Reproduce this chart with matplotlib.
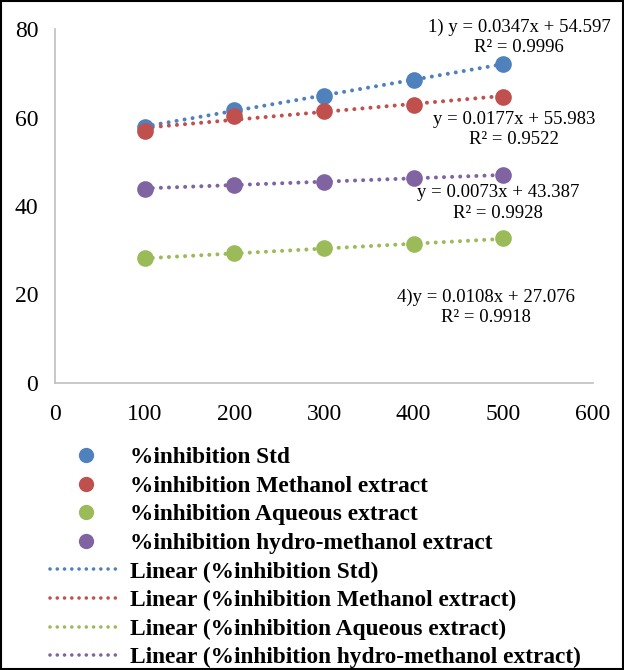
import matplotlib
matplotlib.use("Agg")
import matplotlib.pyplot as plt
from matplotlib.lines import Line2D
from matplotlib.patches import Rectangle
import numpy as np

plt.rcParams['font.family'] = ['Liberation Serif', 'DejaVu Serif']

concentration = [100, 200, 300, 400, 500]
std_vals = [57.9, 61.7, 64.9, 68.5, 72.1]
methanol_vals = [57.0, 60.3, 61.5, 62.9, 64.7]
aqueous_vals = [28.2, 29.3, 30.4, 31.3, 32.7]
hydro_vals = [43.9, 44.8, 45.5, 46.4, 46.9]

series_names = ["%inhibition Std", "%inhibition Methanol extract",
                "%inhibition Aqueous extract", "%inhibition hydro-methanol extract"]
series_values = [std_vals, methanol_vals, aqueous_vals, hydro_vals]
colors = ["#4F81BD", "#C0504D", "#9BBB59", "#8064A2"]

eq_lines = [("1) y = 0.0347x + 54.597", "R² = 0.9996"),
            ("y = 0.0177x + 55.983", "R² = 0.9522"),
            ("y = 0.0073x + 43.387", "R² = 0.9928"),
            ("4)y = 0.0108x + 27.076", "R² = 0.9918")]
eq_pos_px = [(519, 27), (514, 119), (498, 192), (486, 297)]

xticks = [0, 100, 200, 300, 400, 500, 600]
yticks = [0, 20, 40, 60, 80]

W, H = 624, 670
fig = plt.figure(figsize=(W / 100, H / 100), dpi=100)
ax = fig.add_axes([55 / W, 1 - 383 / H, (593 - 55) / W, (383 - 29) / H])

DOT = (0, (0.01, 2.0))

x = np.array(concentration, dtype=float)
for vals, c in zip(series_values, colors):
    ax.plot(x, vals, 'o', color=c, markersize=12, markeredgewidth=0, zorder=3)
for vals, c in zip(series_values, colors):
    k, b = np.polyfit(x, vals, 1)
    xx = np.array([x.min(), x.max()])
    ax.plot(xx, k * xx + b, color=c, lw=2.9, linestyle=DOT,
            dash_capstyle='round', zorder=2)

ax.set_xlim(0, 600)
ax.set_ylim(0, 80)
ax.set_xticks(xticks)
ax.set_yticks(yticks)
ax.tick_params(length=0, labelsize=17)
ax.tick_params(axis='y', pad=12)
ax.tick_params(axis='x', pad=15)
for s in ['top', 'right']:
    ax.spines[s].set_visible(False)
for s in ['left', 'bottom']:
    ax.spines[s].set_color('#BFBFBF')
    ax.spines[s].set_linewidth(1.2)

for (l1, l2), (px, py) in zip(eq_lines, eq_pos_px):
    fig.text(px / W, 1 - py / H, l1, ha='center', va='center', fontsize=13.5)
    fig.text(px / W, 1 - (py + 21) / H, l2, ha='center', va='center', fontsize=13.5)

handles = []
labels = []
for name, c in zip(series_names, colors):
    handles.append(Line2D([], [], marker='o', linestyle='none', color=c,
                          markersize=11, markeredgewidth=0))
    labels.append(name)
for name, c in zip(series_names, colors):
    handles.append(Line2D([], [], color=c, lw=2.6, linestyle=DOT,
                          dash_capstyle='round'))
    labels.append("Linear (" + name + ")")

leg = fig.legend(handles, labels, loc='upper left',
                 bbox_to_anchor=(50 / W, 1 - 447 / H), frameon=False,
                 prop={'weight': 'bold', 'size': 16.8}, handlelength=3.08,
                 handletextpad=0.34, labelspacing=0.31, borderpad=0,
                 borderaxespad=0)

fig.patches.append(Rectangle((1 / W, 1 / H), 1 - 2 / W, 1 - 2 / H,
                             transform=fig.transFigure, fill=False,
                             edgecolor='black', linewidth=1.5))

fig.savefig("out.png", dpi=100)
